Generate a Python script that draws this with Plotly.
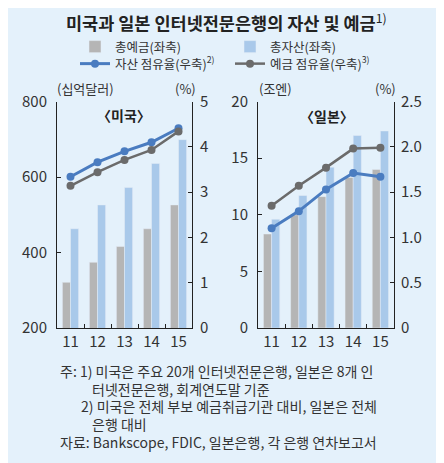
import plotly.graph_objects as go
from plotly.subplots import make_subplots

years = ["11", "12", "13", "14", "15"]

# 미국 (십억달러, %)
us_deposits = [321, 374, 416, 463, 526]
us_assets = [463, 526, 572, 636, 699]
us_asset_share = [3.34, 3.66, 3.90, 4.10, 4.41]
us_deposit_share = [3.14, 3.44, 3.71, 3.93, 4.34]

# 일본 (조엔, %)
jp_deposits = [8.3, 10.0, 11.6, 13.3, 14.0]
jp_assets = [9.6, 11.7, 14.2, 17.0, 17.4]
jp_asset_share = [1.10, 1.29, 1.53, 1.71, 1.67]
jp_deposit_share = [1.35, 1.57, 1.77, 1.98, 1.99]

jp_right_ticks = [0, 0.5, 1.0, 1.5, 2.0, 2.5]
jp_right_labels = ["0", "0.5", "1.0", "1.5", "2.0", "2.5"]

BG = "#e4f1fb"
GRAY_BAR = "#b5b5b5"
BLUE_BAR = "#a9c9ea"
BLUE_LINE = "#4a7cc0"
GRAY_LINE = "#6b6b6b"
FONT = "Noto Sans CJK KR"

W, H = 444, 463
OFF = 8  # page body margin


def px(x):
    return (x - OFF) / W


def py(y):
    return 1 - (y - OFF) / H


fig = make_subplots(rows=1, cols=2,
                    specs=[[{"secondary_y": True}, {"secondary_y": True}]])

panels = [
    (1, us_deposits, us_assets, us_asset_share, us_deposit_share),
    (2, jp_deposits, jp_assets, jp_asset_share, jp_deposit_share),
]
for col, dep, ast, ashare, dshare in panels:
    first = col == 1
    fig.add_trace(go.Bar(x=years, y=dep, name="총예금(좌축)", marker_color=GRAY_BAR,
                         showlegend=first, legend="legend"),
                  row=1, col=col, secondary_y=False)
    fig.add_trace(go.Bar(x=years, y=ast, name="총자산(좌축)", marker_color=BLUE_BAR,
                         showlegend=first, legend="legend"),
                  row=1, col=col, secondary_y=False)
    fig.add_trace(go.Scatter(x=years, y=ashare, name="자산 점유율(우축)<sup>2)</sup>",
                             mode="lines+markers", line=dict(color=BLUE_LINE, width=3),
                             marker=dict(size=8, color=BLUE_LINE),
                             showlegend=first, legend="legend2"),
                  row=1, col=col, secondary_y=True)
    fig.add_trace(go.Scatter(x=years, y=dshare, name="예금 점유율(우축)<sup>3)</sup>",
                             mode="lines+markers", line=dict(color=GRAY_LINE, width=2.5),
                             marker=dict(size=8, color=GRAY_LINE),
                             showlegend=first, legend="legend2"),
                  row=1, col=col, secondary_y=True)

ydom = [py(328), py(101.5)]
axis_common = dict(showline=True, linecolor="#222", linewidth=1, ticks="inside",
                   ticklen=4, tickcolor="#222", showgrid=False, zeroline=False,
                   automargin=False,
                   tickfont=dict(family=FONT, size=15, color="#333"))
legend_common = dict(orientation="h", x=px(75), xanchor="left", yanchor="middle",
                     entrywidth=110, entrywidthmode="pixels", bgcolor="rgba(0,0,0,0)",
                     font=dict(family=FONT, size=12.5, color="#333"), itemwidth=30)

fig.update_layout(
    width=W, height=H,
    margin=dict(l=0, r=0, t=0, b=0, autoexpand=False),
    paper_bgcolor=BG, plot_bgcolor=BG,
    font=dict(family=FONT, color="#333"),
    barmode="group", bargap=0.4, bargroupgap=0,
    legend=dict(y=py(47), **legend_common),
    legend2=dict(y=py(64), **legend_common),
    xaxis=dict(domain=[px(57), px(192)], tickson="boundaries", **axis_common),
    xaxis2=dict(domain=[px(258), px(394)], tickson="boundaries", **axis_common),
    yaxis=dict(domain=ydom, range=[200, 800], dtick=200, ticklabelstandoff=6,
               **axis_common),
    yaxis2=dict(range=[0, 5], dtick=1, ticklabelstandoff=4, **axis_common),
    yaxis3=dict(domain=ydom, range=[0, 20], dtick=5, ticklabelstandoff=6, **axis_common),
    yaxis4=dict(range=[0, 2.5], tickvals=jp_right_ticks, ticktext=jp_right_labels,
                ticklabelstandoff=3, **axis_common),
)

ann = [
    dict(text="(십억달러)", x=55, y=88, size=13, xanchor="left"),
    dict(text="(%)", x=198, y=88, size=13, xanchor="right"),
    dict(text="(조엔)", x=257, y=88, size=13, xanchor="left"),
    dict(text="(%)", x=398, y=88, size=13, xanchor="right"),
    dict(text="<b>〈미국〉</b>", x=124, y=115, size=14, xanchor="center", color="#222"),
    dict(text="<b>〈일본〉</b>", x=327, y=116, size=14, xanchor="center", color="#222"),
    dict(text="주: 1) 미국은 주요 20개 인터넷전문은행, 일본은 8개 인", x=58, y=371, size=14,
         xanchor="left"),
    dict(text="터넷전문은행, 회계연도말 기준", x=90, y=389, size=14, xanchor="left"),
    dict(text="2) 미국은 전체 부보 예금취급기관 대비, 일본은 전체", x=79, y=406, size=14,
         xanchor="left"),
    dict(text="은행 대비", x=90, y=424, size=14, xanchor="left"),
    dict(text="자료: Bankscope, FDIC, 일본은행, 각 은행 연차보고서", x=58, y=442, size=14,
         xanchor="left"),
]
for a in ann:
    fig.add_annotation(text=a["text"], x=px(a["x"]), y=py(a["y"]), xref="paper",
                       yref="paper", xanchor=a["xanchor"], yanchor="middle", showarrow=False,
                       font=dict(family=FONT, size=a["size"], color=a.get("color", "#333")))

# 제목: 위쪽 가장자리에 붙여서 잘리지 않게
fig.add_annotation(text="<b>미국과 일본 인터넷전문은행의 자산 및 예금</b><sup>1)</sup>",
                   x=px(226), y=1, xref="paper", yref="paper", xanchor="center",
                   yanchor="top", showarrow=False, borderpad=0,
                   font=dict(family=FONT, size=17.5, color="#222"))

fig.write_html("out.html")
